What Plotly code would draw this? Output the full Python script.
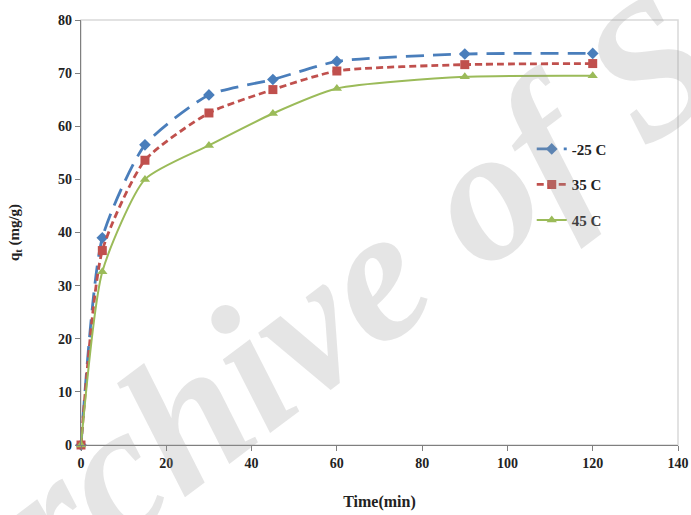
import plotly.graph_objects as go

time_min = [0, 5, 15, 30, 45, 60, 90, 120]
q_25 = [0, 39.0, 56.5, 65.9, 68.8, 72.2, 73.6, 73.7]
q_35 = [0, 36.6, 53.6, 62.5, 66.9, 70.4, 71.6, 71.8]
q_45 = [0, 32.6, 50.0, 56.4, 62.4, 67.1, 69.3, 69.5]
series_names = ["-25 C", "35 C", "45 C"]
x_ticks = [0, 20, 40, 60, 80, 100, 120, 140]
y_ticks = [0, 10, 20, 30, 40, 50, 60, 70, 80]

SERIF = "Liberation Serif, Times New Roman, serif"

fig = go.Figure()
styles = [
    (q_25, "#4a7ebb", "diamond", 9, "18px,9px", 2.8),
    (q_35, "#c0504d", "square", 9, "7px,4px", 2.8),
    (q_45, "#9bbb59", "triangle-up", 9, "solid", 2.0),
]
for i, (name, (vals, col, sym, msz, dash, w)) in enumerate(zip(series_names, styles)):
    fig.add_trace(go.Scatter(
        x=time_min, y=vals, name=name, mode="lines+markers",
        legendgroup=f"g{i}",
        line=dict(color=col, width=w, dash=dash, shape="spline", smoothing=0.6),
        marker=dict(symbol=sym, size=msz, color=col),
        cliponaxis=False,
    ))

# light gray plot-area frame
fig.add_shape(type="rect", xref="paper", yref="paper", x0=0, y0=0, x1=1, y1=1,
              line=dict(color="#d9d9d9", width=1.5), layer="below")

# watermark
fig.add_annotation(
    text="<b><i>Archive of SID</i></b>", xref="paper", yref="paper",
    x=0.508, y=0.418, showarrow=False,
    textangle=-37,
    font=dict(family="Liberation Serif", size=190, color="rgba(150,150,150,0.25)",
              style="italic", weight="bold"),
)

fig.update_layout(
    width=691, height=515,
    margin=dict(l=81, r=13, t=20, b=70),
    paper_bgcolor="white", plot_bgcolor="white",
    showlegend=True,
    legend=dict(
        x=0.755, y=0.735, xanchor="left", yanchor="top",
        bgcolor="rgba(0,0,0,0)",
        font=dict(family=SERIF, size=15, color="#222", weight="bold"),
        tracegroupgap=13, itemwidth=30,
    ),
    font=dict(family=SERIF, color="#222"),
)
fig.update_xaxes(
    range=[0, 140], tickvals=x_ticks, showgrid=False, zeroline=False,
    showline=True, linecolor="#7f7f7f", linewidth=1.2,
    ticks="outside", ticklen=5, tickcolor="#7f7f7f", automargin=False,
    tickfont=dict(family=SERIF, size=14, color="#222", weight="bold"),
    title=dict(text="Time(min)", standoff=25,
               font=dict(family=SERIF, size=16, color="#222", weight="bold")),
)
fig.update_yaxes(
    range=[0, 80], tickvals=y_ticks, showgrid=False, zeroline=False,
    showline=True, linecolor="#7f7f7f", linewidth=1.2,
    ticks="outside", ticklen=5, tickcolor="#7f7f7f", automargin=False,
    tickfont=dict(family=SERIF, size=14, color="#222", weight="bold"),
    title=dict(text="q<sub>t</sub> (mg/g)", standoff=34,
               font=dict(family=SERIF, size=15, color="#222", weight="bold")),
)

fig.write_html("out.html", config={"displayModeBar": False},
               post_script="document.body.style.margin='0px';")
